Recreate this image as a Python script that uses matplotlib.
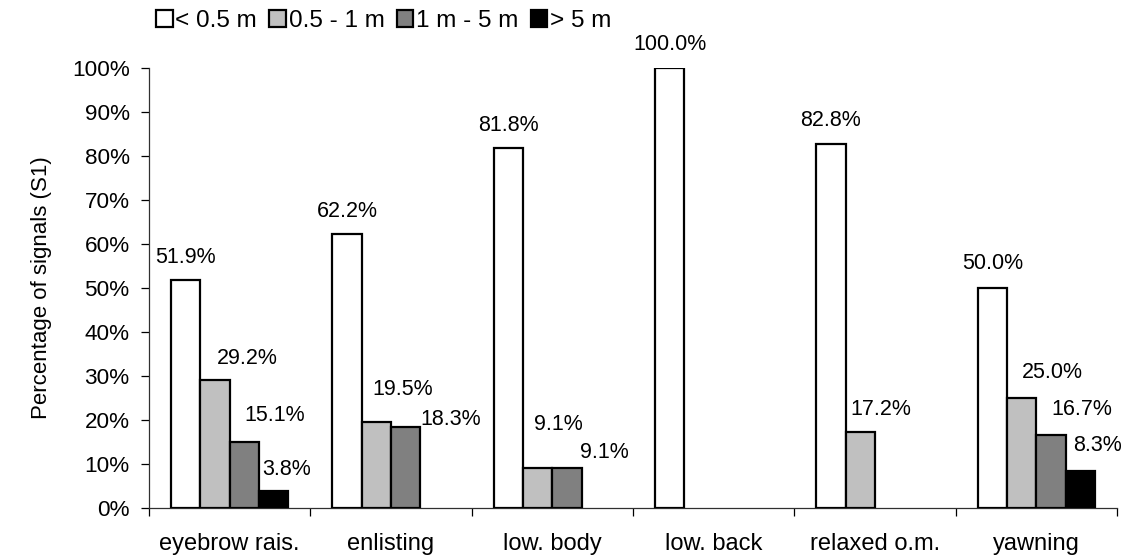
import matplotlib
matplotlib.use("Agg")
import matplotlib.pyplot as plt
import numpy as np
from matplotlib.ticker import FuncFormatter, FixedLocator

plt.rcParams['font.family'] = ['Liberation Sans', 'DejaVu Sans']

categories = ["eyebrow rais.", "enlisting", "low. body", "low. back", "relaxed o.m.", "yawning"]
series_names = ["< 0.5 m", "0.5 - 1 m", "1 m - 5 m", "> 5 m"]
lt_05 = [51.9, 62.2, 81.8, 100.0, 82.8, 50.0]
m05_1 = [29.2, 19.5, 9.1, 0.0, 17.2, 25.0]
m1_5 = [15.1, 18.3, 9.1, 0.0, 0.0, 16.7]
gt_5 = [3.8, 0.0, 0.0, 0.0, 0.0, 8.3]
yticks = [0, 10, 20, 30, 40, 50, 60, 70, 80, 90, 100]

series = [lt_05, m05_1, m1_5, gt_5]
colors = ["#FFFFFF", "#C0C0C0", "#808080", "#000000"]

# label offsets (layout only): (dx px, dy px) from bar top centre to label centre
label_offsets = [
    [(0, 22), (0, 23), (0, 23), (0, 23), (0, 23), (0, 24)],
    [(32, 21), (26, 33), (21, 43), (0, 0), (20, 23), (31, 26)],
    [(30, 26), (45, 8), (37, 15), (0, 0), (0, 0), (31, 25)],
    [(13, 22), (0, 0), (0, 0), (0, 0), (0, 0), (17, 26)],
]

W, H = 1131, 556
fig = plt.figure(figsize=(W / 100, H / 100), dpi=100)
ax = fig.add_axes([149 / W, 1 - 508 / H, (1117 - 149) / W, (508 - 68) / H])

x = np.arange(len(categories))
w = 2 / 11
px2pt = 0.72
for i, (vals, col) in enumerate(zip(series, colors)):
    pos = x + (i - 1.5) * w
    for j, (p, v) in enumerate(zip(pos, vals)):
        if v <= 0:
            continue
        ax.bar(p, v, width=w, color=col, edgecolor="black", linewidth=1.6,
               label=series_names[i] if j == 0 else None, zorder=3)
        dx, dy = label_offsets[i][j]
        ax.annotate(f"{v:.1f}%", xy=(p, v), xytext=(dx * px2pt, dy * px2pt),
                    textcoords="offset points", ha="center", va="center",
                    fontsize=15.5, color="black")

ax.set_xlim(-0.5, len(categories) - 0.5)
ax.set_ylim(0, 100)
ax.set_yticks(yticks)
ax.yaxis.set_major_formatter(FuncFormatter(lambda v, _: f"{v:.0f}%"))
ax.set_xticks(x)
ax.set_xticklabels(categories)
ax.xaxis.set_minor_locator(FixedLocator(np.arange(len(categories) + 1) - 0.5))
ax.tick_params(axis="x", which="major", length=0, pad=18, labelsize=17)
ax.tick_params(axis="x", which="minor", length=6, width=0.9, direction="out")
ax.tick_params(axis="y", length=6, width=0.9, direction="out", pad=8, labelsize=16.2)

for s in ["top", "right"]:
    ax.spines[s].set_visible(False)
for s in ["left", "bottom"]:
    ax.spines[s].set_linewidth(0.9)
    ax.spines[s].set_color("#303030")

ax.set_ylabel("Percentage of signals (S1)", fontsize=16, labelpad=14)

leg = fig.legend(loc="center left", bbox_to_anchor=(156 / W, 1 - 21 / H), ncol=4,
                 frameon=False, fontsize=17.5, handlelength=0.68, handleheight=0.68,
                 handletextpad=0.12, columnspacing=0.5, borderpad=0, borderaxespad=0)

fig.savefig("out.png", dpi=100)
